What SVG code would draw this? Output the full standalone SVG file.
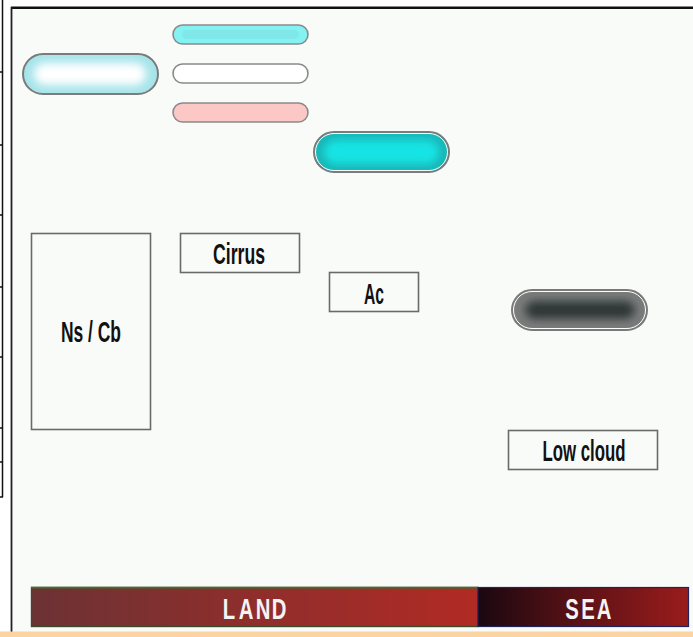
<svg xmlns="http://www.w3.org/2000/svg" width="693" height="637" viewBox="0 0 693 637">
  <defs>
    <style>
      .box { fill: #f9fbf9; stroke: #6a6a6a; stroke-width: 1.6; }
      .lbl { font-family: "Liberation Sans Narrow", "Liberation Sans", "DejaVu Sans Condensed", sans-serif; font-weight: bold; font-size: 29px; fill: #111; text-anchor: middle; }
      .band { font-family: "Liberation Sans Narrow", "Liberation Sans", sans-serif; font-weight: bold; font-size: 29px; fill: #f4f4f4; text-anchor: middle; }
      .pill { stroke: #7a7a7a; stroke-width: 2; }
      .thin { stroke: #8a8a8a; stroke-width: 1.6; }
      .inner { fill: none; stroke: #ffffff; stroke-width: 1; }
      .tick { stroke: #111; stroke-width: 1.5; }
    </style>
    <filter id="soft" x="-20%" y="-50%" width="140%" height="200%">
      <feGaussianBlur stdDeviation="4"/>
    </filter>
    <filter id="soft2" x="-20%" y="-50%" width="140%" height="200%">
      <feGaussianBlur stdDeviation="5"/>
    </filter>
    <linearGradient id="land" x1="0" y1="0" x2="1" y2="0">
      <stop offset="0" stop-color="#6c3234"/>
      <stop offset="1" stop-color="#b22a24"/>
    </linearGradient>
    <linearGradient id="sea" x1="0" y1="0" x2="1" y2="0">
      <stop offset="0" stop-color="#1a0810"/>
      <stop offset="0.5" stop-color="#5e1216"/>
      <stop offset="1" stop-color="#9a1c1c"/>
    </linearGradient>
  </defs>

  <!-- page -->
  <rect x="0" y="0" width="693" height="637" fill="#ffffff"/>
  <rect x="11" y="8" width="682" height="629" fill="#f9fbf9"/>
  <line x1="11" y1="7.8" x2="693" y2="7.8" stroke="#111" stroke-width="2.6"/>
  <line x1="11.5" y1="7" x2="11.5" y2="637" stroke="#222" stroke-width="1.8"/>

  <!-- side scale -->
  <g id="scale">
    <line class="tick" x1="2.5" y1="0" x2="2.5" y2="497"/>
    <line class="tick" x1="0" y1="72" x2="3" y2="72"/>
    <line class="tick" x1="0" y1="145" x2="3" y2="145"/>
    <line class="tick" x1="0" y1="215" x2="3" y2="215"/>
    <line class="tick" x1="0" y1="287" x2="3" y2="287"/>
    <line class="tick" x1="0" y1="357" x2="3" y2="357"/>
    <line class="tick" x1="0" y1="428" x2="3" y2="428"/>
    <line class="tick" x1="0" y1="462" x2="3" y2="462"/>
    <line class="tick" x1="0" y1="497" x2="3" y2="497"/>
  </g>

  <!-- pills -->
  <g id="pill-lightblue">
    <rect class="pill" x="23" y="54" width="135" height="40" rx="20" fill="#a6e4ea"/>
    <rect x="34" y="63" width="112" height="22" rx="11" fill="#ffffff" filter="url(#soft)"/>
  </g>
  <g id="pill-cyan">
    <rect class="thin" x="173" y="25" width="135" height="19" rx="9.5" fill="#84f2f2"/>
    <rect x="182" y="30" width="117" height="9" rx="4.5" fill="#7cdcdc" opacity="0.45"/>
  </g>
  <g id="pill-white">
    <rect class="thin" x="173" y="64" width="135" height="19" rx="9.5" fill="#ffffff"/>
  </g>
  <g id="pill-pink">
    <rect class="thin" x="173" y="103" width="135" height="19" rx="9.5" fill="#fbc8c6"/>
  </g>
  <g id="pill-teal">
    <rect class="pill" x="314" y="132" width="135" height="40" rx="20" fill="#1ab6b6"/>
    <rect x="324" y="140" width="115" height="24" rx="12" fill="#12e4e4" filter="url(#soft)"/>
    <rect class="inner" x="315.5" y="133.5" width="132" height="37" rx="18.5"/>
  </g>
  <g id="pill-dark">
    <rect class="pill" x="512" y="290" width="135" height="40" rx="20" fill="#7c7e7e"/>
    <rect x="525" y="301" width="110" height="18" rx="9" fill="#2e3434" filter="url(#soft2)"/>
    <rect class="inner" x="513.5" y="291.5" width="132" height="37" rx="18.5"/>
  </g>

  <!-- labelled boxes -->
  <g id="ns-cb">
    <rect class="box" x="31.5" y="233.5" width="119" height="196"/>
    <text class="lbl" x="91" y="342" textLength="60" lengthAdjust="spacingAndGlyphs">Ns / Cb</text>
  </g>
  <g id="cirrus">
    <rect class="box" x="180.5" y="233.5" width="119" height="39"/>
    <text class="lbl" x="239" y="264" textLength="52" lengthAdjust="spacingAndGlyphs">Cirrus</text>
  </g>
  <g id="ac">
    <rect class="box" x="329.5" y="272.5" width="89" height="39"/>
    <text class="lbl" x="374" y="304" textLength="20" lengthAdjust="spacingAndGlyphs">Ac</text>
  </g>
  <g id="low-cloud">
    <rect class="box" x="508.5" y="430.5" width="149" height="39"/>
    <text class="lbl" x="584" y="461" textLength="83" lengthAdjust="spacingAndGlyphs">Low cloud</text>
  </g>

  <!-- ground strip: spaced, condensed capitals (x positions divided by the 0.7 squeeze) -->
  <g id="land">
    <rect x="31.5" y="587.5" width="446.5" height="39" fill="url(#land)" stroke="#3e4a2c" stroke-width="1.4"/>
    <line x1="31" y1="587.6" x2="478" y2="587.6" stroke="#4a6a2e" stroke-width="1.6"/>
    <text class="band" transform="scale(0.7,1)" x="327.1 351.4 375.7 398.6" y="619">LAND</text>
  </g>
  <g id="sea">
    <rect x="478" y="587.5" width="210.5" height="39" fill="url(#sea)" stroke="#22225a" stroke-width="1.2"/>
    <text class="band" transform="scale(0.7,1)" x="817.1 840 862.9" y="619">SEA</text>
  </g>

  <!-- bottom rule -->
  <rect x="0" y="631.5" width="693" height="5.5" fill="#fcd3a2"/>
</svg>
